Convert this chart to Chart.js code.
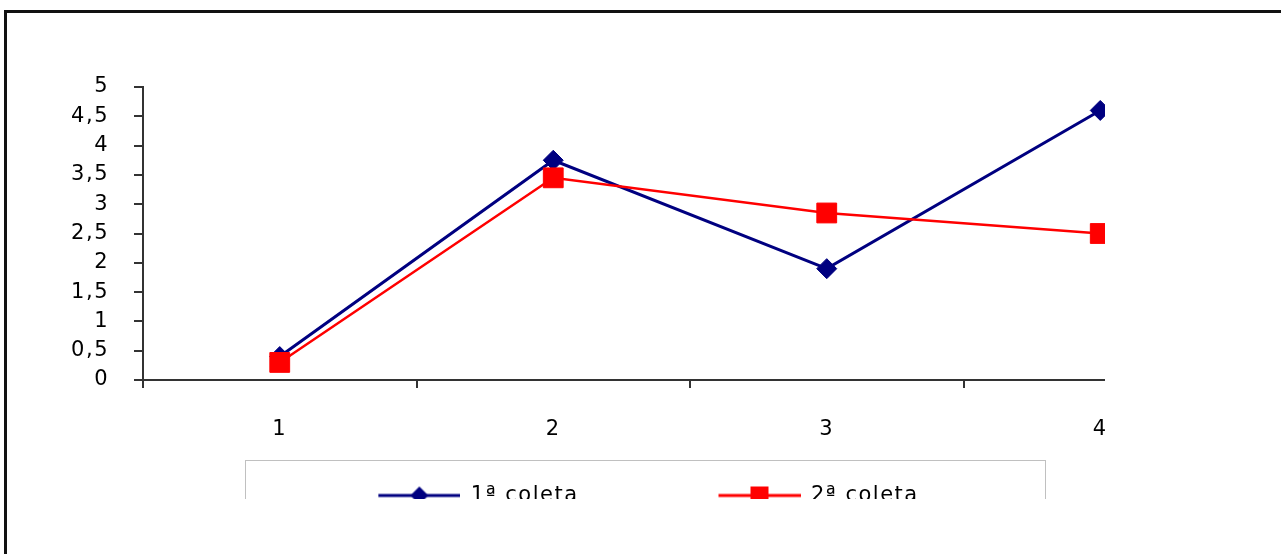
<!DOCTYPE html>
<html>
<head>
  <meta charset="utf-8">
  <title>Coletas</title>
  <script src="https://cdn.jsdelivr.net/npm/chart.js"></script>
  <style>
    body {
      margin: 0;
      background: #fff;
      width: 1281px;
      height: 554px;
      overflow: hidden;
      position: relative;
    }
    #frame {
      position: absolute;
      left: 4px;
      top: 10px;
      width: 1400px;
      height: 600px;
      border-left: 3px solid #111;
      border-top: 3px solid #111;
    }
    #clip {
      position: absolute;
      left: 0;
      top: 0;
      width: 1105px;
      height: 499px;
      overflow: hidden;
    }
  </style>
</head>

<body>
  <div id="frame"></div>
  <div id="clip">
    <canvas id="coletaChart" width="1300" height="516"></canvas>
  </div>

  <script>
    var categories = ['1', '2', '3', '4'];
    var coleta1 = [0.4, 3.75, 1.9, 4.6];
    var coleta2 = [0.3, 3.45, 2.85, 2.5];
    var seriesNames = ['1ª coleta', '2ª coleta'];
    var yMin = 0, yMax = 5, yStep = 0.5;

    var fontSpec = { family: 'DejaVu Sans', size: 21 };
    var axisColor = '#333';
    var blank = 130;   // empty space in front of each legend symbol

    // line + marker symbol for the legend
    function legendIcon(color, style, lineWidth) {
      var c = document.createElement('canvas');
      c.width = blank + 82;
      c.height = 24;
      var ctx = c.getContext('2d');
      ctx.strokeStyle = color;
      ctx.lineWidth = lineWidth;
      ctx.beginPath();
      ctx.moveTo(blank, 12);
      ctx.lineTo(blank + 82, 12);
      ctx.stroke();
      ctx.fillStyle = color;
      var cx = blank + 41;
      ctx.beginPath();
      if (style === 'diamond') {
        ctx.moveTo(cx - 9, 12);
        ctx.lineTo(cx, 3);
        ctx.lineTo(cx + 9, 12);
        ctx.lineTo(cx, 21);
        ctx.closePath();
      } else {
        ctx.rect(cx - 9, 3, 18, 18);
      }
      ctx.fill();
      return c;
    }

    var icons = [legendIcon('#000080', 'diamond', 3), legendIcon('#ff0000', 'square', 3)];

    // wider text spacing like the original
    var textSpacing = {
      id: 'textSpacing',
      beforeLayout: function (chart) { chart.ctx.letterSpacing = '1.5px'; },
      beforeDraw: function (chart) { chart.ctx.letterSpacing = '1.5px'; }
    };

    var legendBox = {
      id: 'legendBox',
      afterDraw: function (chart) {
        var lg = chart.legend;
        var hb = lg.legendHitBoxes;
        if (!hb || hb.length < 2) return;
        var ctx = chart.ctx;
        var left = hb[0].left + blank - 133;
        var right = hb[1].left + hb[1].width + 127;
        var top = lg.top - 15;
        ctx.save();
        ctx.strokeStyle = '#c0c0c0';
        ctx.lineWidth = 1;
        ctx.strokeRect(Math.round(left) + 0.5, Math.round(top) + 0.5, Math.round(right - left), 80);
        ctx.restore();
      }
    };

    var ctx = document.getElementById('coletaChart').getContext('2d');
    var chart = new Chart(ctx, {
      type: 'line',
      data: {
        labels: categories,
        datasets: [{
          label: seriesNames[0],
          data: coleta1,
          borderColor: '#000080',
          backgroundColor: '#000080',
          borderWidth: 3,
          pointStyle: 'rectRot',
          pointRadius: 10,
          pointBorderWidth: 1,
          pointHoverRadius: 10,
          tension: 0,
          order: 1
        }, {
          label: seriesNames[1],
          data: coleta2,
          borderColor: '#ff0000',
          backgroundColor: '#ff0000',
          borderWidth: 2.5,
          pointStyle: 'rect',
          pointRadius: 14,
          pointBorderWidth: 1,
          pointHoverRadius: 14,
          tension: 0,
          order: 0
        }]
      },
      options: {
        responsive: false,
        animation: false,
        layout: {
          padding: { left: -70, right: 63, top: 87, bottom: 0 }
        },
        plugins: {
          tooltip: { enabled: false },
          legend: {
            position: 'bottom',
            labels: {
              usePointStyle: true,
              pointStyleWidth: blank + 82,
              padding: 10,
              color: '#000',
              font: fontSpec,
              generateLabels: function (chart) {
                return chart.data.datasets.map(function (ds, i) {
                  return {
                    text: ds.label,
                    pointStyle: icons[i],
                    fillStyle: ds.backgroundColor,
                    strokeStyle: ds.borderColor,
                    lineWidth: 0,
                    fontColor: '#000',
                    hidden: false,
                    datasetIndex: i
                  };
                });
              }
            }
          }
        },
        scales: {
          x: {
            type: 'category',
            offset: true,
            grid: {
              offset: true,
              drawOnChartArea: false,
              drawTicks: true,
              tickLength: 8,
              lineWidth: 2,
              color: axisColor
            },
            border: { display: true, color: axisColor, width: 2 },
            ticks: { color: '#000', font: fontSpec, padding: 29, maxRotation: 0 },
            afterFit: function (s) { s.height = 95; }
          },
          y: {
            min: yMin,
            max: yMax,
            grid: {
              drawOnChartArea: false,
              drawTicks: true,
              tickLength: 9,
              lineWidth: 2,
              color: axisColor
            },
            border: { display: true, color: axisColor, width: 2 },
            ticks: {
              stepSize: yStep,
              autoSkip: false,
              color: '#000',
              font: fontSpec,
              padding: 25,
              callback: function (v) { return String(v).replace('.', ','); }
            },
            afterFit: function (s) { s.width = 213; }
          }
        }
      },
      plugins: [textSpacing, legendBox]
    });
  </script>
</body>

</html>
